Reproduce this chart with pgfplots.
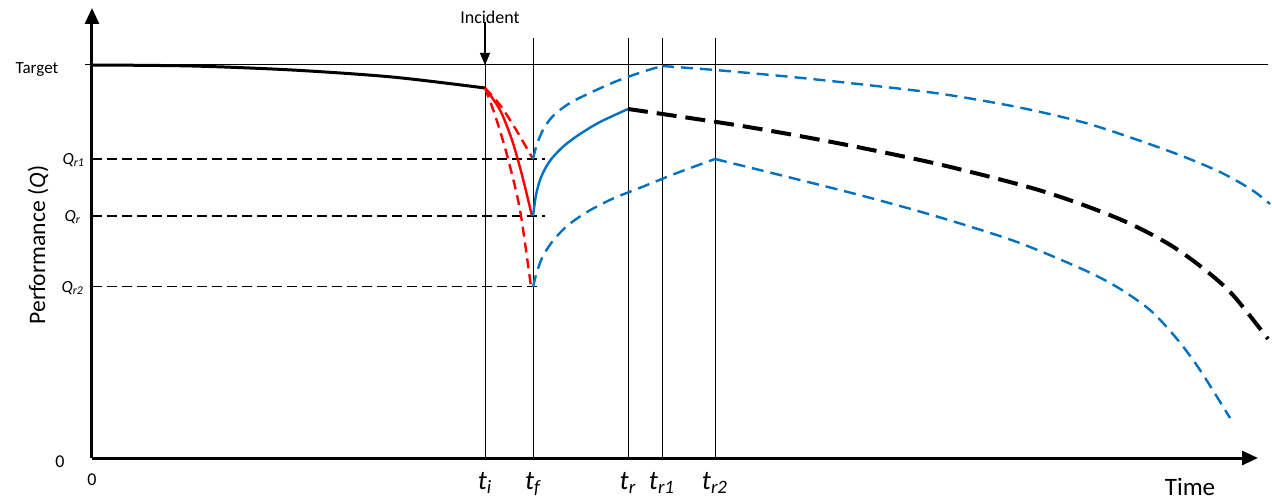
\documentclass[border=0pt]{standalone}
\usepackage{fontspec}
\setmainfont{Carlito}
\usepackage{pgfplots}
\pgfplotsset{compat=1.18}
\usetikzlibrary{arrows.meta}
\definecolor{ofblue}{RGB}{0,112,192}

\begin{document}
\begin{tikzpicture}
\begin{axis}[
    x=0.5pt, y=0.5pt,
    xmin=0, xmax=1166, ymin=0, ymax=450,
    axis lines*=left,
    axis line style={line width=1.5pt, -{Triangle[length=8pt,width=7pt]}},
    xtick={393,441,536,570,623},
    xticklabels={{\itshape t\textsubscript{i}}, {\itshape t\textsubscript{f}},
                 {\itshape t\textsubscript{r}}, {\itshape t\textsubscript{r1}},
                 {\itshape t\textsubscript{r2}}},
    xticklabel style={font=\fontsize{13.5}{14}\selectfont, yshift=-3.5pt},
    major tick length=0pt,
    ytick=\empty,
    xlabel={Time},
    xlabel style={at={(axis description cs:0.9417,-0.0644)}, anchor=center,
                  font=\fontsize{12.5}{14}\selectfont},
    ylabel={Performance (\textit{Q})},
    ylabel style={at={(axis description cs:-0.0463,0.473)}, anchor=center,
                  font=\fontsize{11.8}{14}\selectfont},
    clip=false,
]
% bounding box = 1272 x 500 px
\path (axis cs:-92,-42) rectangle (axis cs:1180,458);

% target line and event lines
\draw[line width=0.5pt] (axis cs:-7,393) -- (axis cs:1176,393);
\foreach \t in {393,441,536,570,623}{
  \edef\tmp{\noexpand\draw[line width=0.5pt] (axis cs:\t,0) -- (axis cs:\t,420);}
  \tmp
}
\draw[line width=0.6pt, -{Triangle[length=6pt,width=5pt]}] (axis cs:393,436) -- (axis cs:393,393);
\node[font=\fontsize{9}{10}\selectfont] at (axis cs:398,441) {Incident};

% reference levels
\addplot[black, line width=0.75pt, dash pattern=on 5pt off 2.5pt] coordinates {(0,299) (453,299)};
\addplot[black, line width=0.75pt, dash pattern=on 5pt off 2.5pt] coordinates {(0,242) (453,242)};
\addplot[black, line width=0.75pt, dash pattern=on 5pt off 2.5pt] coordinates {(0,171.5) (449,171.5)};

% performance before incident
\addplot[black, line width=1.5pt, smooth] coordinates {
  (0,393) (100,392) (200,388) (300,381) (393,370)};

% disruption
\addplot[red, line width=1.2pt, smooth] coordinates {
  (393,370) (408,348) (420,318) (430,283) (440,242)};
\addplot[red, line width=1.2pt, smooth, dash pattern=on 5pt off 3pt] coordinates {
  (393,370) (408,353) (423,330) (441,299)};
\addplot[red, line width=1.2pt, smooth, dash pattern=on 5pt off 3pt] coordinates {
  (393,370) (403,343) (415,303) (428,248) (439,171)};

% recovery
\addplot[ofblue, line width=1.2pt, smooth] coordinates {
  (441,242) (444,263) (448,278) (454,291) (461,301) (473,313)
  (488,324) (508,336) (536,349)};
\addplot[ofblue, line width=1.2pt, smooth, dash pattern=on 6pt off 3.5pt] coordinates {
  (441,299) (445,314) (452,330) (462,343) (478,355) (500,366)
  (525,377) (550,386) (570,392)};
\addplot[ofblue, line width=1.2pt, smooth, dash pattern=on 6pt off 3.5pt] coordinates {
  (441,171) (444,183) (450,200) (460,216) (475,232) (495,246)
  (520,259) (550,271) (585,285) (623,299)};

% post-recovery decline
\addplot[black, line width=2pt, smooth, dash pattern=on 10pt off 4.5pt] coordinates {
  (536,349) (650,332) (750,314) (850,293) (950,267) (1025,240)
  (1075,215) (1110,190.5) (1140,164) (1176,119)};
\addplot[ofblue, line width=1.2pt, smooth, dash pattern=on 6pt off 3.5pt] coordinates {
  (570,392) (623,388) (700,381) (775,373) (850,364) (925,351)
  (990,336) (1040,320) (1090,302) (1130,285) (1160,268) (1178,254)};
\addplot[ofblue, line width=1.2pt, smooth, dash pattern=on 6pt off 3.5pt] coordinates {
  (623,299) (700,280) (775,261) (850,240) (925,216) (990,189)
  (1025,171) (1058,148) (1085,119) (1108,88) (1138,40)};

% labels on the performance axis
\node[font=\fontsize{8.5}{9}\selectfont] at (axis cs:-55,388) {Target};
\node[anchor=east, font=\fontsize{8.5}{9}\selectfont\itshape] at (axis cs:0,298) {Q\textsubscript{r1}};
\node[anchor=east, font=\fontsize{8.5}{9}\selectfont\itshape] at (axis cs:-4,241) {Q\textsubscript{r}};
\node[anchor=east, font=\fontsize{8.5}{9}\selectfont\itshape] at (axis cs:-1,170) {Q\textsubscript{r2}};
\node[font=\fontsize{9}{10}\selectfont] at (axis cs:-32,-4) {0};
\node[font=\fontsize{9}{10}\selectfont] at (axis cs:0,-22) {0};
\end{axis}
\end{tikzpicture}
\end{document}
